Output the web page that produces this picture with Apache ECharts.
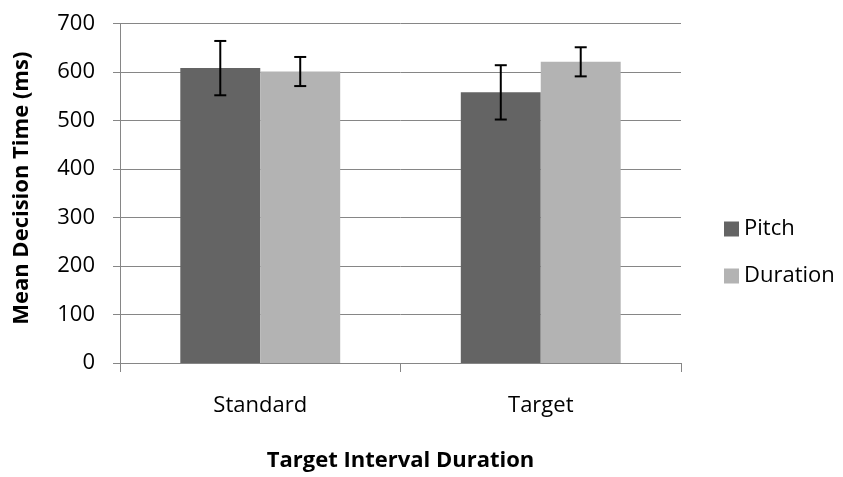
<!DOCTYPE html>
<html>
<head>
<meta charset="utf-8">
<script src="https://cdn.jsdelivr.net/npm/echarts@6/dist/echarts.min.js"></script>
<style>html,body{margin:0;padding:0;background:#fff}#c{width:843px;height:477px}</style>
</head>
<body>
<div id="c"></div>
<script>
var categories = ['Standard', 'Target'];
var pitchMeans = [608, 558];
var pitchErr = [56, 56];
var durationMeans = [601, 621];
var durationErr = [30, 30];
var yTicks = [0, 100, 200, 300, 400, 500, 600, 700];

var FONT = 'Open Sans';
var chart = echarts.init(document.getElementById('c'));

function errSeries(means, errs, sign) {
  return {
    type: 'custom',
    silent: true,
    z: 10,
    data: means.map(function (m, i) { return [i, m - errs[i], m + errs[i]]; }),
    renderItem: function (params, api) {
      var i = api.value(0);
      var lo = api.coord([i, api.value(1)]);
      var hi = api.coord([i, api.value(2)]);
      var band = api.size([1, 0])[0];
      var barW = band * (1 - 0.43) / 2;
      var x = lo[0] + sign * barW / 2;
      var cap = 6;
      var st = { stroke: '#000', lineWidth: 2 };
      return {
        type: 'group',
        children: [
          { type: 'line', shape: { x1: x, y1: lo[1], x2: x, y2: hi[1] }, style: st },
          { type: 'line', shape: { x1: x - cap, y1: lo[1], x2: x + cap, y2: lo[1] }, style: st },
          { type: 'line', shape: { x1: x - cap, y1: hi[1], x2: x + cap, y2: hi[1] }, style: st }
        ]
      };
    }
  };
}

chart.setOption({
  animation: false,
  textStyle: { fontFamily: FONT },
  grid: { left: 120, right: 162, top: 23.5, bottom: 110 },
  legend: {
    orient: 'vertical',
    left: 724, top: 218,
    padding: 0,
    itemWidth: 15, itemHeight: 15, itemGap: 25,
    icon: 'rect',
    textStyle: { fontFamily: FONT, fontSize: 22, lineHeight: 22, color: '#000' },
    data: ['Pitch', 'Duration']
  },
  xAxis: {
    type: 'category',
    data: categories,
    name: 'Target Interval Duration',
    nameLocation: 'middle',
    nameGap: 87,
    nameTextStyle: { fontFamily: FONT, fontSize: 22, fontWeight: 'bold', color: '#000' },
    axisLine: { lineStyle: { color: '#868686', width: 1 } },
    axisTick: { show: true, length: 9, lineStyle: { color: '#868686' } },
    axisLabel: { fontFamily: FONT, fontSize: 22, color: '#000', margin: 32 }
  },
  yAxis: {
    type: 'value',
    min: 0, max: 700, interval: 100,
    name: 'Mean Decision Time (ms)',
    nameLocation: 'middle',
    nameGap: 87,
    nameRotate: 90,
    nameTextStyle: { fontFamily: FONT, fontSize: 22, fontWeight: 'bold', color: '#000', padding: [0, 0, 0, 10] },
    axisLine: { show: true, lineStyle: { color: '#868686', width: 1 } },
    axisTick: { show: true, length: 7, lineStyle: { color: '#868686' } },
    splitLine: { lineStyle: { color: '#868686', width: 1 } },
    axisLabel: {
      fontFamily: FONT, fontSize: 22, color: '#000', margin: 25, padding: [5, 0, 0, 0],
      formatter: function (v) { return yTicks.indexOf(v) >= 0 ? String(v) : ''; }
    }
  },
  series: [
    { name: 'Pitch', type: 'bar', data: pitchMeans, barGap: '0%', barCategoryGap: '43%', itemStyle: { color: '#646464' } },
    { name: 'Duration', type: 'bar', data: durationMeans, barGap: '0%', barCategoryGap: '43%', itemStyle: { color: '#b3b3b3' } },
    errSeries(pitchMeans, pitchErr, -1),
    errSeries(durationMeans, durationErr, 1)
  ]
});
</script>
</body>
</html>
